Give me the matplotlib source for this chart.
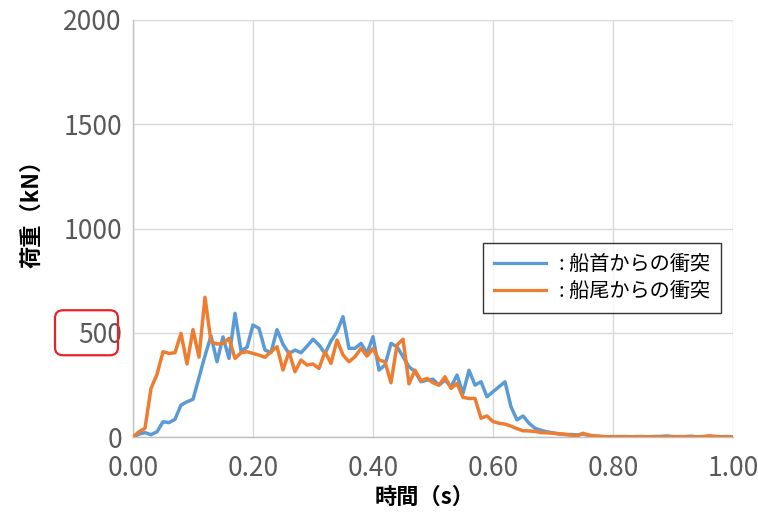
import numpy as np
from matplotlib import pyplot as plt
from matplotlib.patches import FancyBboxPatch

plt.rcParams['font.family'] = ['Noto Sans CJK JP', 'DejaVu Sans']

# time axis (s), 0.01 s step
t = np.round(np.arange(0, 101) * 0.01, 2)

# load from the bow (kN)
bow = [0, 14, 21, 11, 25, 73, 69, 85, 153, 169,
       181, 285, 390, 485, 361, 480, 377, 593, 413, 430,
       537, 521, 417, 405, 515, 445, 400, 417, 404, 435,
       469, 441, 401, 460, 505, 577, 425, 425, 449, 401,
       481, 321, 345, 449, 433, 385, 337, 313, 265, 273,
       277, 249, 273, 241, 297, 209, 320, 249, 265, 193,
       217, 241, 265, 145, 82, 101, 66, 42, 32, 25,
       20, 15, 12, 12, 10, 14, 8, 4, 2, 1,
       2, 1, 2, 1, 1, 2, 1, 2, 3, 5,
       2, 1, 2, 4, 1, 1, 2, 1, 1, 2, 1]

# load from the stern (kN)
stern = [0, 25, 42, 233, 300, 409, 401, 404, 497, 350,
         515, 383, 670, 457, 446, 449, 473, 377, 404, 409,
         401, 393, 382, 409, 433, 321, 409, 313, 369, 345,
         350, 329, 409, 353, 465, 393, 361, 385, 425, 388,
         425, 369, 361, 260, 441, 469, 255, 321, 270, 281,
         260, 249, 289, 233, 257, 190, 185, 185, 90, 101,
         74, 66, 62, 52, 40, 30, 29, 27, 21, 20,
         18, 15, 13, 9, 5, 18, 9, 5, 3, 1,
         1, 2, 1, 1, 2, 1, 1, 2, 1, 1,
         1, 2, 1, 1, 1, 2, 6, 3, 1, 1, 0]

xticks = [0.0, 0.2, 0.4, 0.6, 0.8, 1.0]
yticks = [0, 500, 1000, 1500, 2000]

fig = plt.figure(figsize=(7.58, 5.12), dpi=100)
ax = fig.add_axes([133/758, 75/512, 600/758, 417/512])

ax.plot(t, bow, color='#5B9BD5', lw=2.5, label=': 船首からの衝突', zorder=3)
ax.plot(t, stern, color='#ED7D31', lw=2.5, label=': 船尾からの衝突', zorder=4)

ax.set_xlim(0, 1.0)
ax.set_ylim(0, 2000)
ax.set_xticks(xticks)
ax.set_yticks(yticks)
ax.set_xticklabels(['%.2f' % v for v in xticks])
ax.grid(True, color='#D9D9D9', lw=1.0, zorder=0)
ax.set_axisbelow(True)
for s in ['top', 'right']:
    ax.spines[s].set_visible(False)
for s in ['left', 'bottom']:
    ax.spines[s].set_color('#BFBFBF')
    ax.spines[s].set_linewidth(1.0)
ax.tick_params(length=0, labelsize=19, labelcolor='#595959')
ax.tick_params(axis='y', pad=8)
ax.tick_params(axis='x', pad=13)

fig.text(32/758, 1 - 208/512, '荷重（kN）', rotation=90, ha='center', va='center',
         fontsize=16, fontweight='bold')
fig.text(425/758, 1 - 497/512, '時間（s）', ha='center', va='center',
         fontsize=16, fontweight='bold')

leg = ax.legend(loc='upper left', bbox_to_anchor=((483-133)/600, (437-243)/417),
                borderaxespad=0, fontsize=14.5, frameon=True, fancybox=False,
                handlelength=2.6, handletextpad=0.6, borderpad=0.55, labelspacing=0.3)
leg.get_frame().set_edgecolor('black')
leg.get_frame().set_linewidth(1.0)
for h in leg.get_lines():
    h.set_linewidth(2.3)

# red highlight around the 500 tick label
y500 = ax.transData.transform((0, 500))[1]
box = FancyBboxPatch((58, y500 - 19.5), 57, 39, boxstyle='round,pad=3,rounding_size=8',
                     transform=None, fill=False, edgecolor='#E8222A', lw=1.6)
fig.patches.append(box)

fig.savefig('out.png', dpi=100)
